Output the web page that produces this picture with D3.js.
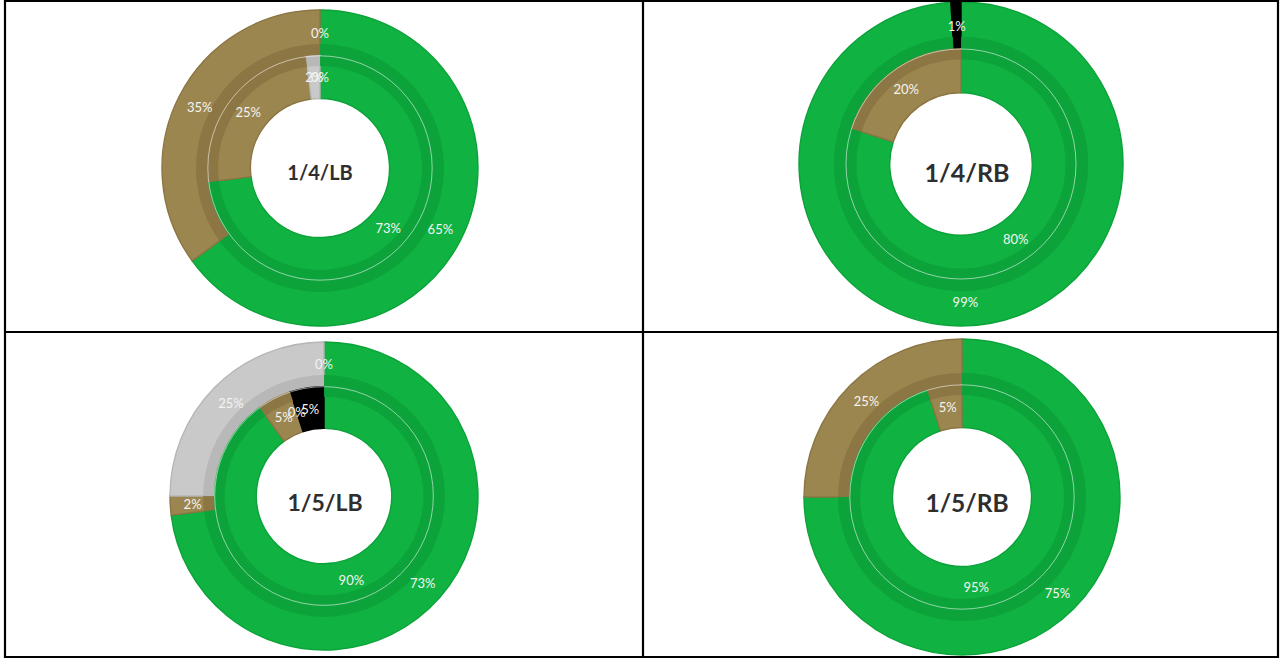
<!DOCTYPE html>
<html>
<head>
<meta charset="utf-8">
<script src="https://cdn.jsdelivr.net/npm/d3@7"></script>
<style>
  html, body { margin: 0; padding: 0; background: #fff; }
  svg { display: block; }
</style>
</head>
<body>
<svg id="chart" width="1281" height="658"></svg>
<script>
// Share categories, drawn clockwise from 12 o'clock in this order
const categories = ["green", "brown", "gray", "black"];
const chartTitles = ["1/4/LB", "1/4/RB", "1/5/LB", "1/5/RB"];
// Outer ring shares (%) per chart; null = category not present
const outerValues = [
  [65, 35, null, 0],
  [99, null, null, 1],
  [73, 2, 25, 0],
  [75, 25, null, null]
];
// Inner ring shares (%) per chart
const innerValues = [
  [73, 25, 2, 0],
  [80, 20, null, null],
  [90, 5, 0, 5],
  [95, 5, null, null]
];

// Layout of the 2x2 table and each doughnut inside its cell
const layout = [
  { cx: 320, cy: 168, r: 158, titleSize: 20, titleDx: 0, titleDy: 4 },
  { cx: 961, cy: 164, r: 162, titleSize: 25, titleDx: 6, titleDy: 8 },
  { cx: 324, cy: 496, r: 154, titleSize: 23, titleDx: 1, titleDy: 6 },
  { cx: 962, cy: 497, r: 158, titleSize: 24.5, titleDx: 5, titleDy: 5 }
];

const fill = d3.scaleOrdinal().domain(categories)
  .range(["#10b341", "#9c8650", "#c9c9c9", "#000000"]);
const shade = d3.scaleOrdinal().domain(categories)
  .range(["#0ca23a", "#8b7643", "#b6b6b6", "#000000"]);

const svg = d3.select("#chart");

const pie = d3.pie()
  .sort(null)
  .value(d => d.value)
  .startAngle(0)
  .endAngle(2 * Math.PI);

function ringData(values) {
  return categories
    .map((c, i) => ({ cat: c, value: values[i] }))
    .filter(d => d.value !== null);
}

chartTitles.forEach((title, k) => {
  const L = layout[k];
  const g = svg.append("g").attr("transform", `translate(${L.cx},${L.cy})`);
  const rHole = 0.44 * L.r;
  const rMid = 0.71 * L.r;
  const rOut = L.r;

  const rings = [
    { values: outerValues[k], r0: rMid, r1: rOut, b0: rMid, b1: rMid + 0.075 * L.r },
    { values: innerValues[k], r0: rHole, r1: rMid, b0: rMid - 0.065 * L.r, b1: rMid }
  ];

  const labelLayer = [];

  rings.forEach(ring => {
    const arcs = pie(ringData(ring.values));
    const arc = d3.arc().innerRadius(ring.r0).outerRadius(ring.r1);
    const band = d3.arc().innerRadius(ring.b0).outerRadius(ring.b1);

    g.append("g").selectAll("path")
      .data(arcs.filter(a => a.data.value > 0))
      .join("path")
      .attr("d", arc)
      .attr("fill", a => fill(a.data.cat))
      .attr("stroke", a => shade(a.data.cat))
      .attr("stroke-width", 1.4);

    // darker shading along the seam between the two rings
    g.append("g").selectAll("path")
      .data(arcs.filter(a => a.data.value > 0))
      .join("path")
      .attr("d", band)
      .attr("fill", a => shade(a.data.cat))
      .attr("opacity", 0.9);

    arcs.forEach(a => {
      const mid = d3.arc().innerRadius(ring.r0).outerRadius(ring.r1);
      labelLayer.push({ pos: mid.centroid(a), text: a.data.value + "%" });
    });
  });

  // faint highlight on the seam
  g.append("circle")
    .attr("r", rMid)
    .attr("fill", "none")
    .attr("stroke", "#ffffff")
    .attr("stroke-width", 1)
    .attr("opacity", 0.55);

  g.append("g").selectAll("text")
    .data(labelLayer)
    .join("text")
    .attr("x", d => d.pos[0])
    .attr("y", d => d.pos[1])
    .attr("text-anchor", "middle")
    .attr("dominant-baseline", "central")
    .attr("font-family", "Lato, 'Open Sans', sans-serif")
    .attr("font-size", 13)
    .attr("fill", "#f4f4f4")
    .text(d => d.text);

  g.append("text")
    .attr("x", L.titleDx)
    .attr("y", L.titleDy)
    .attr("text-anchor", "middle")
    .attr("dominant-baseline", "central")
    .attr("font-family", "Lato, 'Open Sans', sans-serif")
    .attr("font-weight", "bold")
    .attr("font-size", L.titleSize)
    .attr("fill", "#2e2e2e")
    .text(title);
});

// table grid
const gridX = [5, 643, 1278];
const gridY = [1, 332, 657];
const grid = svg.append("g").attr("stroke", "#000").attr("stroke-width", 2.2);
gridX.forEach(x => grid.append("line").attr("x1", x).attr("x2", x).attr("y1", 0).attr("y2", 658));
gridY.forEach(y => grid.append("line").attr("x1", 4).attr("x2", 1279).attr("y1", y).attr("y2", y));
</script>
</body>
</html>
